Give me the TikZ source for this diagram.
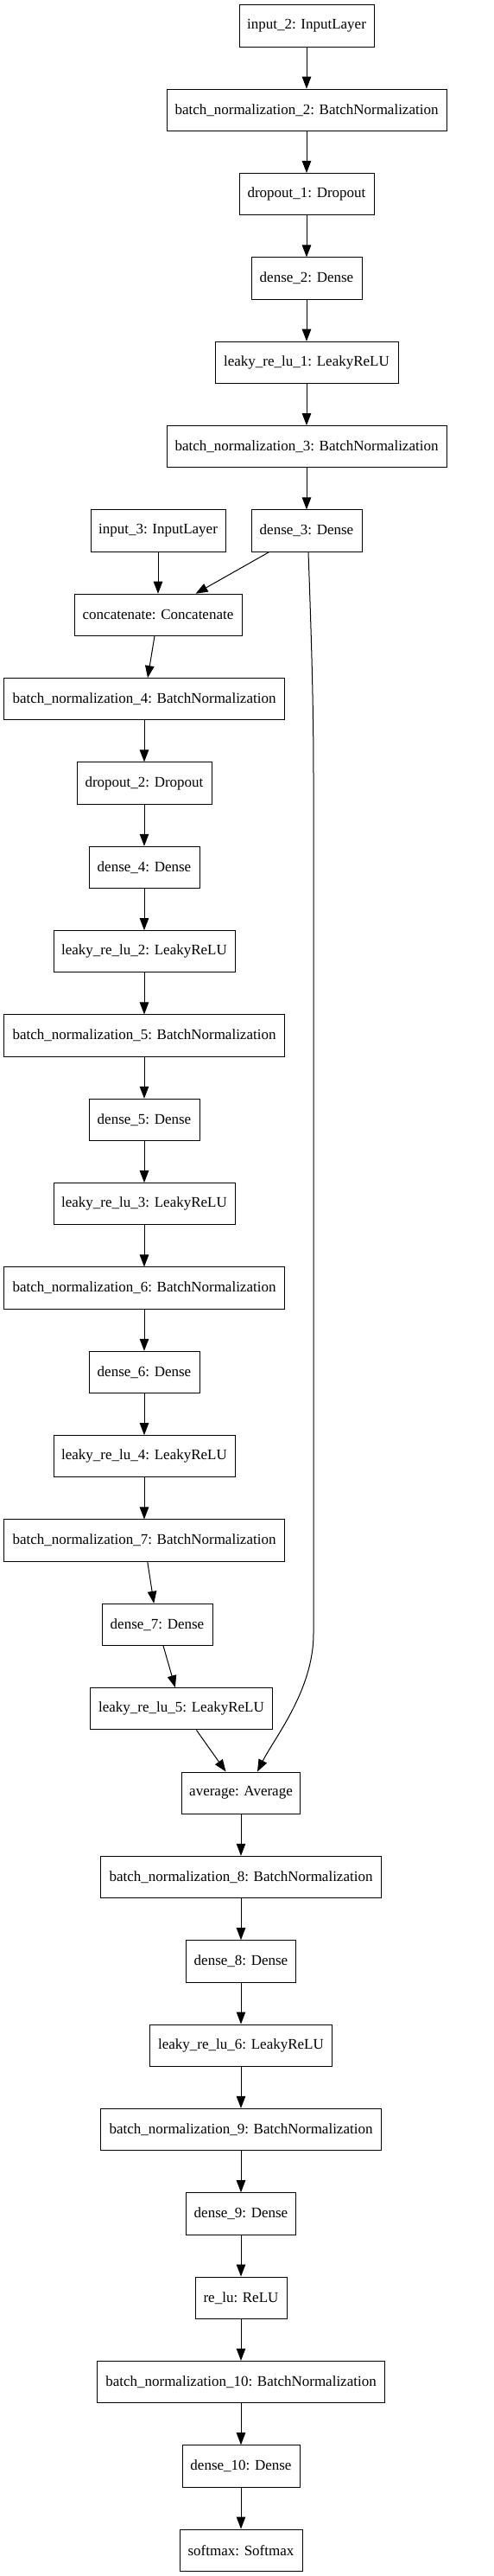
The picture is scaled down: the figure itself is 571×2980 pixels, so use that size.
\documentclass[tikz,border=0pt]{standalone}
\usepackage{fontspec}
\setmainfont{Liberation Serif}
\usetikzlibrary{arrows.meta,calc}
\begin{document}
\begin{tikzpicture}[x=1pt,y=1pt,
  box/.style={draw=black, line width=1pt, rectangle, inner sep=0pt, minimum height=48.3pt,
    font=\fontsize{17}{20}\selectfont, align=center},
  arr/.style={draw=black, line width=1pt, -{Triangle[length=14pt,width=10.5pt]}}]
\fill[white] (0,0) rectangle (571,-2980);
\useasboundingbox (0,0) rectangle (571,-2980);
% top chain
\node[box, minimum width=156] (in2) at (355,-30) {input\_2: InputLayer};
\node[box, minimum width=324] (bn2) at (355,-127.34) {batch\_normalization\_2: BatchNormalization};
\node[box, minimum width=156] (do1) at (355,-224.68) {dropout\_1: Dropout};
\node[box, minimum width=128] (d2) at (355,-322.02) {dense\_2: Dense};
\node[box, minimum width=212] (lk1) at (355,-419.36) {leaky\_re\_lu\_1: LeakyReLU};
\node[box, minimum width=324] (bn3) at (355,-516.70) {batch\_normalization\_3: BatchNormalization};
\node[box, minimum width=156] (in3) at (183,-614.04) {input\_3: InputLayer};
\node[box, minimum width=128] (d3) at (355,-614.04) {dense\_3: Dense};
\node[box, minimum width=194] (cat) at (183,-711.38) {concatenate: Concatenate};
\node[box, minimum width=325] (bn4) at (167,-808.72) {batch\_normalization\_4: BatchNormalization};
\node[box, minimum width=156] (do2) at (167,-906.06) {dropout\_2: Dropout};
\node[box, minimum width=128] (d4) at (167,-1003.40) {dense\_4: Dense};
\node[box, minimum width=210] (lk2) at (167,-1100.74) {leaky\_re\_lu\_2: LeakyReLU};
\node[box, minimum width=325] (bn5) at (167,-1198.08) {batch\_normalization\_5: BatchNormalization};
\node[box, minimum width=128] (d5) at (167,-1295.42) {dense\_5: Dense};
\node[box, minimum width=210] (lk3) at (167,-1392.76) {leaky\_re\_lu\_3: LeakyReLU};
\node[box, minimum width=325] (bn6) at (167,-1490.10) {batch\_normalization\_6: BatchNormalization};
\node[box, minimum width=128] (d6) at (167,-1587.44) {dense\_6: Dense};
\node[box, minimum width=210] (lk4) at (167,-1684.78) {leaky\_re\_lu\_4: LeakyReLU};
\node[box, minimum width=325] (bn7) at (167,-1782.12) {batch\_normalization\_7: BatchNormalization};
\node[box, minimum width=128] (d7) at (182,-1879.46) {dense\_7: Dense};
\node[box, minimum width=211] (lk5) at (210,-1976.80) {leaky\_re\_lu\_5: LeakyReLU};
\node[box, minimum width=137] (avg) at (279,-2074.14) {average: Average};
\node[box, minimum width=325] (bn8) at (279,-2171.48) {batch\_normalization\_8: BatchNormalization};
\node[box, minimum width=127] (d8) at (279,-2268.82) {dense\_8: Dense};
\node[box, minimum width=211] (lk6) at (279,-2366.16) {leaky\_re\_lu\_6: LeakyReLU};
\node[box, minimum width=325] (bn9) at (279,-2463.50) {batch\_normalization\_9: BatchNormalization};
\node[box, minimum width=127] (d9) at (279,-2560.84) {dense\_9: Dense};
\node[box, minimum width=106] (relu) at (279,-2658.18) {re\_lu: ReLU};
\node[box, minimum width=333] (bn10) at (279,-2755.52) {batch\_normalization\_10: BatchNormalization};
\node[box, minimum width=136] (d10) at (279,-2852.86) {dense\_10: Dense};
\node[box, minimum width=142] (sm) at (279,-2950.20) {softmax: Softmax};
% connectors
\foreach \a/\b in {in2/bn2, bn2/do1, do1/d2, d2/lk1, lk1/bn3, bn3/d3, in3/cat, d3/cat,
  cat/bn4, bn4/do2, do2/d4, d4/lk2, lk2/bn5, bn5/d5, d5/lk3, lk3/bn6, bn6/d6, d6/lk4,
  lk4/bn7, bn7/d7, d7/lk5, lk5/avg, avg/bn8, bn8/d8, d8/lk6, lk6/bn9, bn9/d9, d9/relu,
  relu/bn10, bn10/d10, d10/sm}
  \draw[arr] (\a) -- (\b);
% skip connection dense_3 -> average
\coordinate (skipS) at ($(d3.south)+(2,0)$);
\coordinate (skipA) at (363,-900);
\coordinate (skipB) at (363,-1890);
\coordinate (skipE) at ($(avg.north)+(19,0)$);
\draw[arr] (skipS) .. controls (361,-750) and (363,-820) .. (skipA) -- (skipB)
  .. controls (363,-1955) and (318,-2010) .. (skipE);
\end{tikzpicture}
\end{document}
